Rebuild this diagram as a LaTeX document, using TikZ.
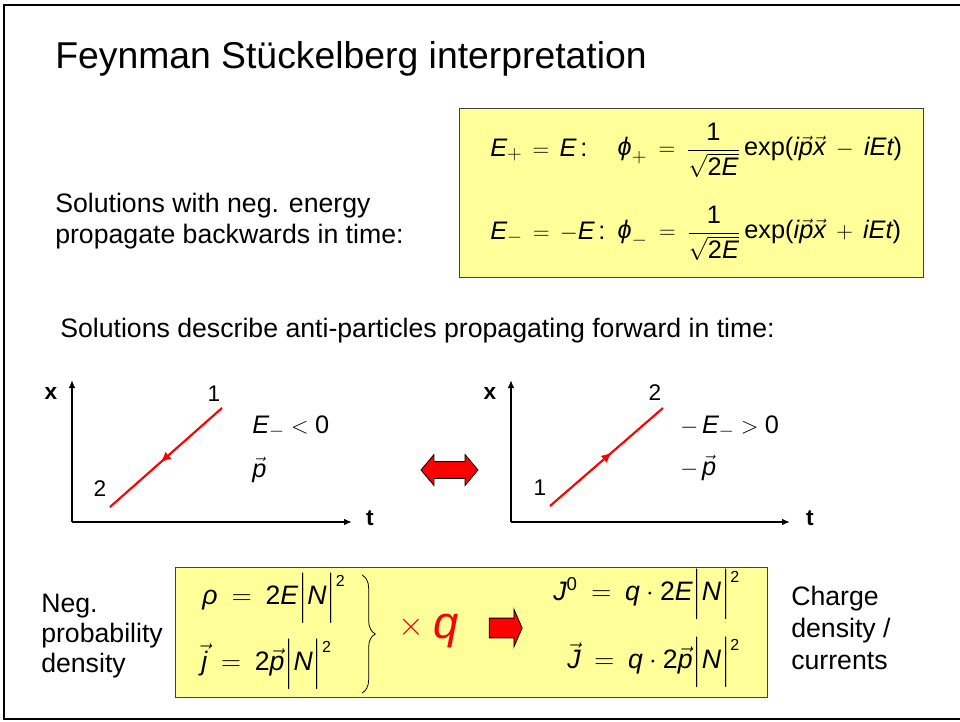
\documentclass[tikz,border=0pt]{standalone}
\usepackage{amsmath}
\usepackage{mathspec}
\setmainfont{Liberation Sans}
\setmathsfont(Digits,Latin,Greek){Liberation Sans}
\definecolor{fsyellow}{HTML}{FFFF99}
\definecolor{fsred}{HTML}{FF0000}
\usetikzlibrary{arrows.meta,shapes.arrows,decorations.markings,decorations.pathreplacing}
\newcommand{\tx}[1]{\text{#1}}
\newcommand{\absN}{\Big|N\Big|\raisebox{13.5pt}{\fontsize{12}{12}\selectfont 2}}

\begin{document}
\begin{tikzpicture}[
  x=0.75pt,y=-0.75pt,
  font=\fontsize{20}{23.25}\selectfont,
  ybox/.style={draw=black!75,line width=0.6pt,fill=fsyellow,inner sep=0pt},
  eq/.style={anchor=west,inner sep=0pt,font=\fontsize{19}{22}\selectfont},
  beq/.style={anchor=west,inner sep=0pt,font=\fontsize{20}{24}\selectfont},
  lbl/.style={inner sep=0pt,font=\fontsize{17}{20}\selectfont},
  axlbl/.style={inner sep=0pt,font=\fontsize{17}{20}\selectfont\bfseries},
  axis/.style={line width=1.4pt,-{Latex[length=6pt,width=5pt]}},
  world/.style={line width=1.6pt,fsred,postaction={decorate},
    decoration={markings,mark=at position 0.55 with {\arrow{Latex[length=8pt,width=7pt]}}}},
  bigarr/.style={fill=fsred,draw=black,line width=0.6pt,inner sep=0pt}]
\useasboundingbox (0,0) rectangle (960,721);
\draw[line width=1.5pt] (4,5) rectangle (970,719);
\node[anchor=base west,inner sep=0pt,font=\fontsize{28}{34}\selectfont] (title) at (55,68) {Feynman Stückelberg interpretation};
\node[ybox,minimum width=348pt,minimum height=126.75pt] (topbox) at (691,192.5) {};
\node[eq] (eplus) at (490,150) {$E_{+}\,=\,E\,\tx{:}$};
\node[eq] (phiplus) at (617,150) {$\varphi_{+}\:=\:\dfrac{1}{\sqrt{2E}}\,\tx{exp(}i\vec{p}\vec{x}\:-\:iEt\tx{)}$};
\node[eq] (eminus) at (490,233) {$E_{-}\,=\,-E\,\tx{:}$};
\node[eq] (phiminus) at (617,233) {$\varphi_{-}\:=\:\dfrac{1}{\sqrt{2E}}\,\tx{exp(}i\vec{p}\vec{x}\:+\:iEt\tx{)}$};
\node[anchor=north west,inner sep=0pt,align=left] (backw) at (55,192.5) {Solutions with neg. energy\\propagate backwards in time:};
\node[anchor=base west,inner sep=0pt] (forw) at (60,337) {Solutions describe anti-particles propagating forward in time:};
\coordinate (o1) at (72,522);
\coordinate (xa1) at (72,380);
\coordinate (ta1) at (352,522);
\draw[axis] (o1) -- (xa1);
\draw[axis] (o1) -- (ta1);
\node[axlbl] (xl1) at (51,394) {x};
\node[axlbl] (tl1) at (370,518) {t};
\coordinate (p1a) at (222,408);
\coordinate (p2a) at (110,507);
\draw[world] (p1a) -- (p2a);
\node[lbl] (n1a) at (214,394) {1};
\node[lbl] (n2a) at (100,489) {2};
\node[eq] (eneg) at (252,427) {$E_{-}<0$};
\node[eq] (pvec) at (252,470) {$\vec{p}$};
\node[bigarr,double arrow,minimum height=42.75pt,minimum width=22.5pt,
  inner ysep=6pt,double arrow head extend=5.25pt,double arrow tip angle=100] (swap) at (449.5,470) {};
\coordinate (o2) at (511,522);
\coordinate (xa2) at (511,380);
\coordinate (ta2) at (790,522);
\draw[axis] (o2) -- (xa2);
\draw[axis] (o2) -- (ta2);
\node[axlbl] (xl2) at (490,394) {x};
\node[axlbl] (tl2) at (810,518) {t};
\coordinate (p1b) at (550,506);
\coordinate (p2b) at (663,408);
\draw[world] (p1b) -- (p2b);
\node[lbl] (n2b) at (655,393) {2};
\node[lbl] (n1b) at (540,488) {1};
\node[eq] (epos) at (680,427) {$-\,E_{-}>0$};
\node[eq] (mpvec) at (680,468) {$-\,\vec{p}$};
\node[anchor=north west,inner sep=0pt,align=left,font=\fontsize{20}{22.5}\selectfont] (negprob) at (41,594) {Neg.\\probability\\density};
\node[ybox,minimum width=444pt,minimum height=97.5pt] (botbox) at (471,632) {};
\node[beq] (rho) at (201,598) {$\rho\:=\:2E\absN$};
\node[beq] (jvec) at (201,664) {$\vec{j}\:=\:2\vec{p}\absN$};
\coordinate (brtop) at (362,575);
\coordinate (brbot) at (362,693);
\draw[line width=0.6pt,decorate,decoration={brace,amplitude=10pt}] (brtop) -- (brbot);
\node[inner sep=0pt,text=fsred,font=\fontsize{34}{34}\selectfont] (times) at (411,627) {$\times$};
\node[anchor=base west,inner sep=0pt,text=fsred,font=\fontsize{34}{34}\selectfont\itshape] (qq) at (433,638) {q};
\node[bigarr,single arrow,minimum height=24.75pt,minimum width=27.75pt,
  inner ysep=7.1pt,single arrow head extend=6.75pt,single arrow tip angle=133] (mult) at (503.5,628) {};
\node[beq] (jzero) at (553,594) {$J^{0}\:=\:q\cdot 2E\absN$};
\node[beq] (jcur) at (567,662) {$\vec{J}\:=\:q\cdot 2\vec{p}\absN$};
\node[anchor=north west,inner sep=0pt,align=left,font=\fontsize{20}{24}\selectfont] (charge) at (791,585.5) {Charge\\density /\\currents};
\end{tikzpicture}
\end{document}
